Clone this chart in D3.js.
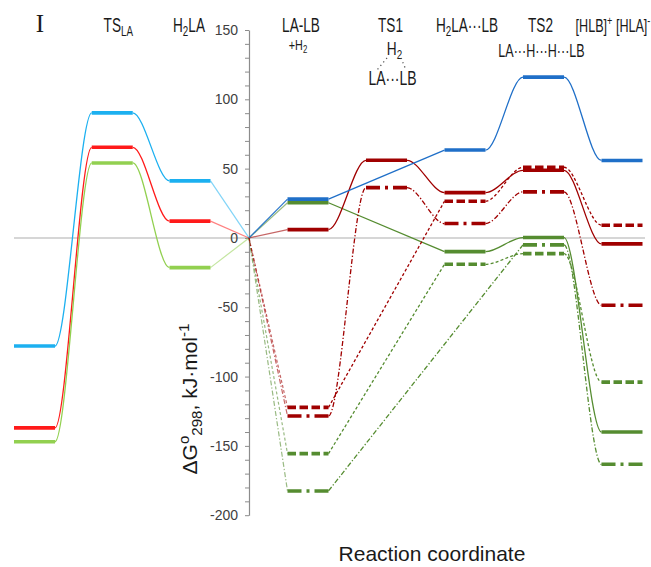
<!DOCTYPE html>
<html><head><meta charset="utf-8">
<script src="https://cdn.jsdelivr.net/npm/d3@7"></script>
<style>
body{margin:0;background:#fff;}
svg{display:block;font-family:"Liberation Sans",Arial,sans-serif;}
</style>
</head><body>
<svg id="chart" width="651" height="567"></svg>
<script>
// ---------- data ----------
// category index 3 is the common zero point (LA + LB + H2 reference)
const categories = ["", "TS_{LA}", "H_{2}LA", "", "LA-LB", "TS1", "H_{2}LA···LB", "TS2", "[HLB]^{+} [HLA]^{-}"];
const subLabels = ["+H_{2}", "H_{2}", "LA···LB", "LA···H···H···LB"];
const yTickValues = d3.range(-200, 151, 10);
const yTickLabels = [-200, -150, -100, -50, 0, 50, 100, 150];
const yTitle = "ΔG^{o}_{298}, kJ·mol^{-1}";
const xTitle = "Reaction coordinate";
const panelLabel = "I";

// left branch: categories 0,1,2
const leftBlue  = [-78, 90.2, 41.2];
const leftRed   = [-137, 65.4, 12.1];
const leftGreen = [-147, 54.1, -21.4];

// right branch: categories 4..8 (LA-LB, TS1, H2LA···LB, TS2, [HLB]+[HLA]-)
const rightBlue         = [28, null, 63.4, 116, 55.9];
const rightRedSolid     = [6, 56, 32.7, 48.8, -4.3];
const rightRedDash      = [-122.2, null, 26.5, 51, 9.2];
const rightRedDashDot   = [-128.4, 36.3, 10.4, 33.2, -48.5];
const rightGreenSolid   = [25.4, null, -9.9, 0.3, -140];
const rightGreenDash    = [-155.6, null, -19, -11.3, -104];
const rightGreenDashDot = [-182.5, null, null, -5, -163.3];

// connector shapes between consecutive levels
const shapesLeft = ["S", "S"];
const shapesBlue = ["line", "S", "S"];
const shapesRedSolid = ["S", "S", "S", "S"];
const shapesRedDash = ["line", "S", "S"];
const shapesRedDashDot = ["S", "S", "S", "S"];
const shapesGreenSolid = ["line", "S", "S"];
const shapesGreenDash = ["line", "S", "S"];
const shapesGreenDashDot = ["line", "S"];

// ---------- styles ----------
const C = {lightBlue:"#1cb0f0", red:"#ff1a1a", lightGreen:"#92d050",
           blue:"#1f6fc8", darkRed:"#a00000", green:"#558c30"};
const DASH = {solid:null, dash:"8.5,3.5", dashdot:"14,5,3,5"};
const CDASH = {solid:null, dash:"3,2.2", dashdot:"5,2,1.3,2"};

const series = [
  {vals:leftBlue,  start:0, color:C.lightBlue, style:"solid", shapes:shapesLeft, side:"left"},
  {vals:leftRed,   start:0, color:C.red,       style:"solid", shapes:shapesLeft, side:"left"},
  {vals:leftGreen, start:0, color:C.lightGreen,style:"solid", shapes:shapesLeft, side:"left"},
  {vals:rightGreenDashDot, start:4, color:C.green, style:"dashdot", shapes:shapesGreenDashDot, side:"right"},
  {vals:rightGreenDash,    start:4, color:C.green, style:"dash",    shapes:shapesGreenDash, side:"right"},
  {vals:rightGreenSolid,   start:4, color:C.green, style:"solid",   shapes:shapesGreenSolid, side:"right"},
  {vals:rightRedDashDot,   start:4, color:C.darkRed, style:"dashdot", shapes:shapesRedDashDot, side:"right"},
  {vals:rightRedDash,      start:4, color:C.darkRed, style:"dash",    shapes:shapesRedDash, side:"right"},
  {vals:rightRedSolid,     start:4, color:C.darkRed, style:"solid",   shapes:shapesRedSolid, side:"right"},
  {vals:rightBlue,         start:4, color:C.blue, style:"solid", shapes:shapesBlue, side:"right"}
];

// ---------- scales ----------
const svg = d3.select("#chart");
const x = d3.scaleLinear().domain([0, 2, 3, 4, 8]).range([34.5, 190, 249, 308, 622]);
const y = d3.scaleLinear().domain([-200, 150]).range([515.2, 30]);
const hw = 20.5;

// custom S-shaped connector curve (horizontal tangents at both ends)
function curveS(k) {
  return function(context) {
    return {
      areaStart(){}, areaEnd(){},
      lineStart(){ this._p = null; },
      lineEnd(){},
      point(px, py){
        if (!this._p) context.moveTo(px, py);
        else {
          const [x0, y0] = this._p, dx = px - x0;
          context.bezierCurveTo(x0 + k*dx, y0, px - k*dx, py, px, py);
        }
        this._p = [px, py];
      }
    };
  };
}
const lineStraight = d3.line().curve(d3.curveLinear);
const lineS = d3.line().curve(curveS(0.32));

// zero line
svg.append("line")
  .attr("x1", 14).attr("x2", 645)
  .attr("y1", y(0)).attr("y2", y(0))
  .attr("stroke", "#c9c9c9").attr("stroke-width", 1.4);

// y axis
const yAxis = d3.axisLeft(y).tickValues(yTickValues).tickSize(4).tickSizeOuter(0).tickPadding(7)
  .tickFormat(d => yTickLabels.includes(d) ? String(d) : "");
const gy = svg.append("g").attr("transform", `translate(${x(3)},0)`).call(yAxis);
gy.select(".domain").attr("stroke", "#8c8c8c").attr("stroke-width", 1.2);
gy.selectAll(".tick line").attr("stroke", "#8c8c8c");
gy.selectAll(".tick text").attr("font-size", 14).attr("fill", "#404040")
  .attr("font-family", '"Liberation Sans", Arial, sans-serif');

// series
const gC = svg.append("g"), gL = svg.append("g");
series.forEach(s => {
  const levels = [];
  s.vals.forEach((v, i) => { if (v !== null) levels.push({i: s.start + i, v}); });
  // connectors between levels
  for (let j = 0; j < levels.length - 1; j++) {
    const a = levels[j], b = levels[j+1];
    const pts = [[x(a.i) + hw, y(a.v)], [x(b.i) - hw, y(b.v)]];
    gC.append("path")
      .attr("d", (s.shapes[j] === "S" ? lineS : lineStraight)(pts))
      .attr("fill", "none").attr("stroke", s.color).attr("stroke-width", 1.3)
      .attr("stroke-dasharray", CDASH[s.style]);
  }
  // connector to / from zero point
  const origin = [x(3), y(0)];
  const pts = s.side === "left"
    ? [[x(levels[levels.length-1].i) + hw, y(levels[levels.length-1].v)], origin]
    : [origin, [x(levels[0].i) - hw, y(levels[0].v)]];
  gC.append("path")
    .attr("d", lineStraight(pts))
    .attr("fill", "none").attr("stroke", s.color).attr("stroke-width", 1.2)
    .attr("stroke-opacity", s.side === "left" ? 0.55 : (s.color === C.blue ? 0.95 : 0.6))
    .attr("stroke-dasharray", CDASH[s.style]);
  // levels
  levels.forEach(l => {
    gL.append("line")
      .attr("x1", x(l.i) - hw).attr("x2", x(l.i) + hw)
      .attr("y1", y(l.v)).attr("y2", y(l.v))
      .attr("stroke", s.color).attr("stroke-width", 3.6)
      .attr("stroke-dasharray", DASH[s.style]);
  });
});

// rich text helper: _{sub} and ^{sup}
function rich(sel, str, fs) {
  const re = /([_^])\{([^}]*)\}/g;
  let last = 0, m, shift = 0;
  const add = (t, type) => {
    const target = type === 1 ? 0.22*fs : (type === -1 ? -0.38*fs : 0);
    sel.append("tspan").attr("font-size", type ? 0.72*fs : fs)
      .attr("dy", target - shift).text(t);
    shift = target;
  };
  while ((m = re.exec(str))) {
    if (m.index > last) add(str.slice(last, m.index), 0);
    add(m[2], m[1] === "_" ? 1 : -1);
    last = re.lastIndex;
  }
  if (last < str.length) add(str.slice(last), 0);
}
function label(str, cx, cy, fs, sx) {
  const t = svg.append("text")
    .attr("transform", `translate(${cx},${cy}) scale(${sx},1)`)
    .attr("text-anchor", "middle").attr("fill", "#1a1a1a");
  rich(t, str, fs);
  return t;
}

// top category labels (layout offsets from category centres)
const labelDx = [0, 6, -1, 0, -7, 4, 2, -3, -9];
categories.forEach((c, i) => {
  if (!c) return;
  label(c, x(i) + labelDx[i], 32, i === 8 ? 18 : 20, i === 8 ? 0.7 : 0.68);
});
label(subLabels[0], x(4) - 10, 50, 15, 0.72);
label(subLabels[1], x(5) + 8, 55, 19, 0.72);
label(subLabels[2], x(5) + 6, 85, 20, 0.7);
label(subLabels[3], x(7) - 2, 57, 19, 0.66);
// dotted bond lines between H2 and LA···LB
[[[387, 58], [377, 70]], [[401, 58], [406, 70]]].forEach(p => {
  svg.append("path").attr("d", lineStraight(p))
    .attr("stroke", "#555").attr("stroke-width", 1.3).attr("fill", "none")
    .attr("stroke-dasharray", "1.2,3.3");
});

// panel label
svg.append("text").attr("x", 40).attr("y", 32).attr("text-anchor", "middle")
  .attr("font-family", '"Liberation Serif", "Times New Roman", serif')
  .attr("font-size", 25).attr("fill", "#1a1a1a").text(panelLabel);

// axis titles
const yt = svg.append("text")
  .attr("transform", "translate(197,399) rotate(-90)")
  .attr("text-anchor", "middle").attr("fill", "#1a1a1a");
rich(yt, yTitle, 21);
svg.append("text").attr("x", 432).attr("y", 561).attr("text-anchor", "middle")
  .attr("font-size", 21).attr("fill", "#1a1a1a").text(xTitle);
</script>
</body></html>
